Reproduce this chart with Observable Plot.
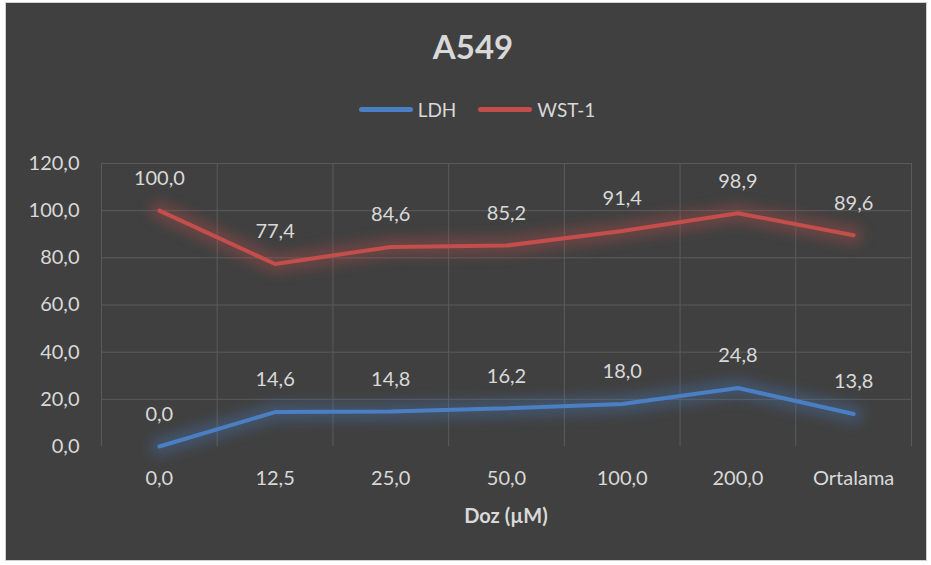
<!DOCTYPE html>
<html>
<head>
<meta charset="utf-8">
<script src="https://cdn.jsdelivr.net/npm/d3@7"></script>
<script src="https://cdn.jsdelivr.net/npm/@observablehq/plot@0.6"></script>
<style>
  html, body { margin: 0; padding: 0; background: #ffffff; }
  body { width: 931px; height: 565px; position: relative; overflow: hidden; font-family: Lato, "Open Sans", sans-serif; }
  #frame { position: absolute; left: 5px; top: 2px; width: 922px; height: 559px; background: #404040; border: 1px solid #d0d0d0; box-sizing: border-box; }
  #title { position: absolute; left: 0; top: 30px; width: 946px; text-align: center; font-weight: 700; font-size: 33px; line-height: 1; color: #d9d9d9; }
  #legend { position: absolute; left: 0; top: 100px; width: 954px; display: flex; justify-content: center; align-items: center; font-size: 19px; line-height: 1; color: #d9d9d9; }
  #legend .sw { width: 54px; height: 5px; border-radius: 3px; margin-right: 5px; }
  #legend .item { display: flex; align-items: center; margin: 0 11px; }
  #xtitle { position: absolute; left: 0; top: 505px; width: 1012px; text-align: center; font-weight: 700; font-size: 20px; line-height: 1; color: #d9d9d9; }
  #plot { position: absolute; left: 0; top: 140px; }
  #plot g.halo { filter: blur(6px); }
</style>
</head>
<body>
<div id="frame"></div>
<div id="title"></div>
<div id="legend"></div>
<div id="plot"></div>
<div id="xtitle"></div>
<script>
// Dose categories on the x axis
const categories = ["0,0", "12,5", "25,0", "50,0", "100,0", "200,0", "Ortalama"];
// Series values (%)
const ldh = [0.0, 14.6, 14.8, 16.2, 18.0, 24.8, 13.8];
const wst1 = [100.0, 77.4, 84.6, 85.2, 91.4, 98.9, 89.6];
// Series names and colours
const seriesNames = ["LDH", "WST-1"];
const seriesColors = ["#4a7fc4", "#c44e4b"];
// Y axis ticks
const yTicks = [0, 20, 40, 60, 80, 100, 120];

const chartTitle = "A549";
const xTitle = "Doz (µM)";

const fmt = v => v.toFixed(1).replace(".", ",");

const rows = categories.flatMap((c, i) => [
  {i, category: c, series: "LDH", value: ldh[i]},
  {i, category: c, series: "WST-1", value: wst1[i]}
]);

document.getElementById("title").textContent = chartTitle;
document.getElementById("xtitle").textContent = xTitle;

const legend = d3.select("#legend");
seriesNames.forEach((name, k) => {
  const item = legend.append("div").attr("class", "item");
  item.append("div").attr("class", "sw").style("background", seriesColors[k]);
  item.append("span").text(name);
});

const chart = Plot.plot({
  width: 931,
  height: 400,
  marginLeft: 101,
  marginRight: 20,
  marginTop: 23,
  marginBottom: 94,
  style: {background: "none", color: "#d9d9d9", fontSize: "20px", fontFamily: "Lato, 'Open Sans', sans-serif", overflow: "visible"},
  x: {
    domain: [-0.5, categories.length - 0.5],
    ticks: d3.range(categories.length),
    tickFormat: i => categories[i],
    tickSize: 0,
    tickPadding: 24,
    label: null
  },
  y: {
    domain: [0, 120],
    ticks: yTicks,
    tickFormat: fmt,
    tickSize: 0,
    tickPadding: 22,
    label: null
  },
  color: {domain: seriesNames, range: seriesColors},
  marks: [
    // horizontal gridlines
    Plot.ruleY(yTicks.filter(v => v > 0), {stroke: "#5b5b5b", strokeWidth: 1}),
    // vertical gridlines on category boundaries
    Plot.ruleX(d3.range(-0.5, categories.length), {stroke: "#5b5b5b", strokeWidth: 1}),
    // soft halo under each line (blurred below)
    Plot.line(rows, {x: "i", y: "value", z: "series", stroke: "series", strokeWidth: 20, strokeOpacity: 0.3}),
    Plot.line(rows, {x: "i", y: "value", z: "series", stroke: "series", strokeWidth: 4, strokeLinejoin: "miter"}),
    Plot.text(rows, {x: "i", y: "value", text: d => fmt(d.value), dy: -32, fill: "#d9d9d9", fontSize: 20})
  ]
});

// the first line group is the halo layer
const lineGroups = chart.querySelectorAll('g[aria-label="line"]');
if (lineGroups.length) lineGroups[0].classList.add("halo");

document.getElementById("plot").appendChild(chart);
</script>
</body>
</html>
